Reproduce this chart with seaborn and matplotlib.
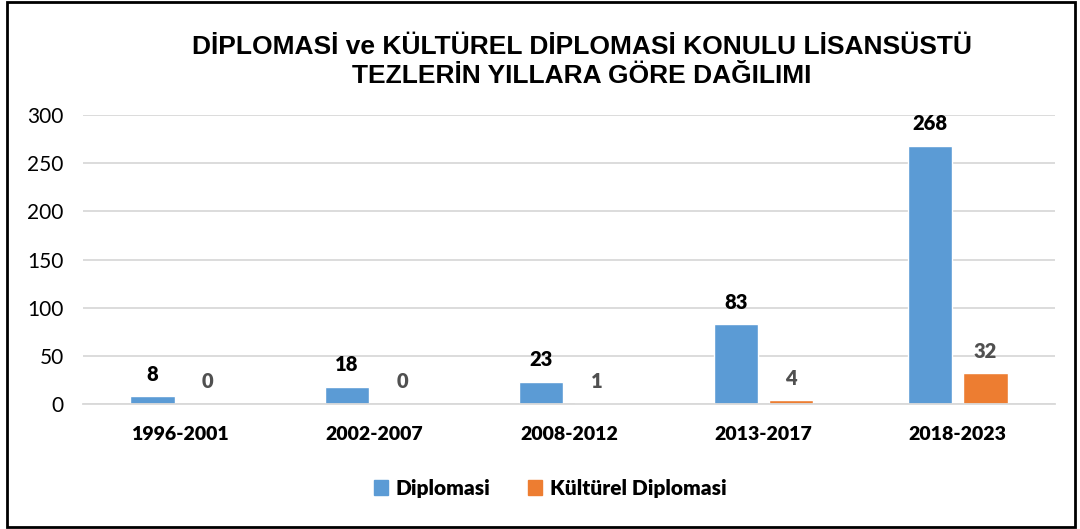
import matplotlib
matplotlib.use("Agg")
import matplotlib.pyplot as plt
import matplotlib.patches as mpatches
import seaborn as sns
import pandas as pd

periods = ["1996-2001", "2002-2007", "2008-2012", "2013-2017", "2018-2023"]
diplomasi = [8, 18, 23, 83, 268]
kulturel = [0, 0, 1, 4, 32]
series_names = ["Diplomasi", "Kültürel Diplomasi"]
title = "DİPLOMASİ ve KÜLTÜREL DİPLOMASİ KONULU LİSANSÜSTÜ\nTEZLERİN YILLARA GÖRE DAĞILIMI"

df = pd.DataFrame({
    "period": periods * 2,
    "value": diplomasi + kulturel,
    "series": [series_names[0]] * len(periods) + [series_names[1]] * len(periods),
})

sns.set_theme(style="white")
plt.rcParams["font.family"] = ["Lato", "DejaVu Sans"]
plt.rcParams["text.color"] = "black"

fig = plt.figure(figsize=(10.8, 5.29), dpi=100)
ax = fig.add_axes([83 / 1080, 125 / 529, 972 / 1080, 289 / 529])

colors = {"Diplomasi": "#5B9BD5", "Kültürel Diplomasi": "#ED7D31"}
sns.barplot(data=df, x="period", y="value", hue="series", palette=colors,
            width=0.57, gap=0.2, ax=ax, legend=False, saturation=1)

ax.set_xlim(-0.5, len(periods) - 0.5)
ax.set_ylim(0, 300)
ax.set_yticks(range(0, 301, 50))
ax.yaxis.grid(True, color="#D9D9D9", linewidth=1.3)
ax.set_axisbelow(True)
for s in ["top", "right", "left"]:
    ax.spines[s].set_visible(False)
ax.spines["bottom"].set_color("#D9D9D9")
ax.spines["bottom"].set_linewidth(1.3)
ax.set_xlabel("")
ax.set_ylabel("")
ax.tick_params(axis="y", labelsize=15, colors="black", pad=14, length=0)
ax.tick_params(axis="x", colors="black", pad=16, length=0)
ax.set_xticks(range(len(periods)))
ax.set_xticklabels(periods, fontsize=14, fontweight="heavy", color="black")

label_colors = ["black", "#505050"]
for i, cont in enumerate(ax.containers):
    ax.bar_label(cont, fmt="%d", padding=9, fontsize=14.5, fontweight="heavy",
                 color=label_colors[i])

fig.text(582 / 1080, 1 - 61.5 / 529, title, ha="center", va="center", color="black",
         fontsize=19, fontweight="bold", family=["Liberation Sans", "DejaVu Sans"],
         linespacing=1.22)

handles = [mpatches.Patch(color=colors[n], label=n) for n in series_names]
leg = fig.legend(handles=handles, loc="center", bbox_to_anchor=(550 / 1080, 1 - 488 / 529),
                 ncol=2, frameon=False, handlelength=0.7, handleheight=0.7,
                 handletextpad=0.35, columnspacing=1.8, prop={"size": 15, "weight": "heavy"})
for t in leg.get_texts():
    t.set_color("black")

fig.patches.append(mpatches.Rectangle((7 / 1080, 2 / 529), 1068 / 1080, 525 / 529,
                                      transform=fig.transFigure, fill=False,
                                      edgecolor="black", linewidth=2))

fig.savefig("out.png", dpi=100)
